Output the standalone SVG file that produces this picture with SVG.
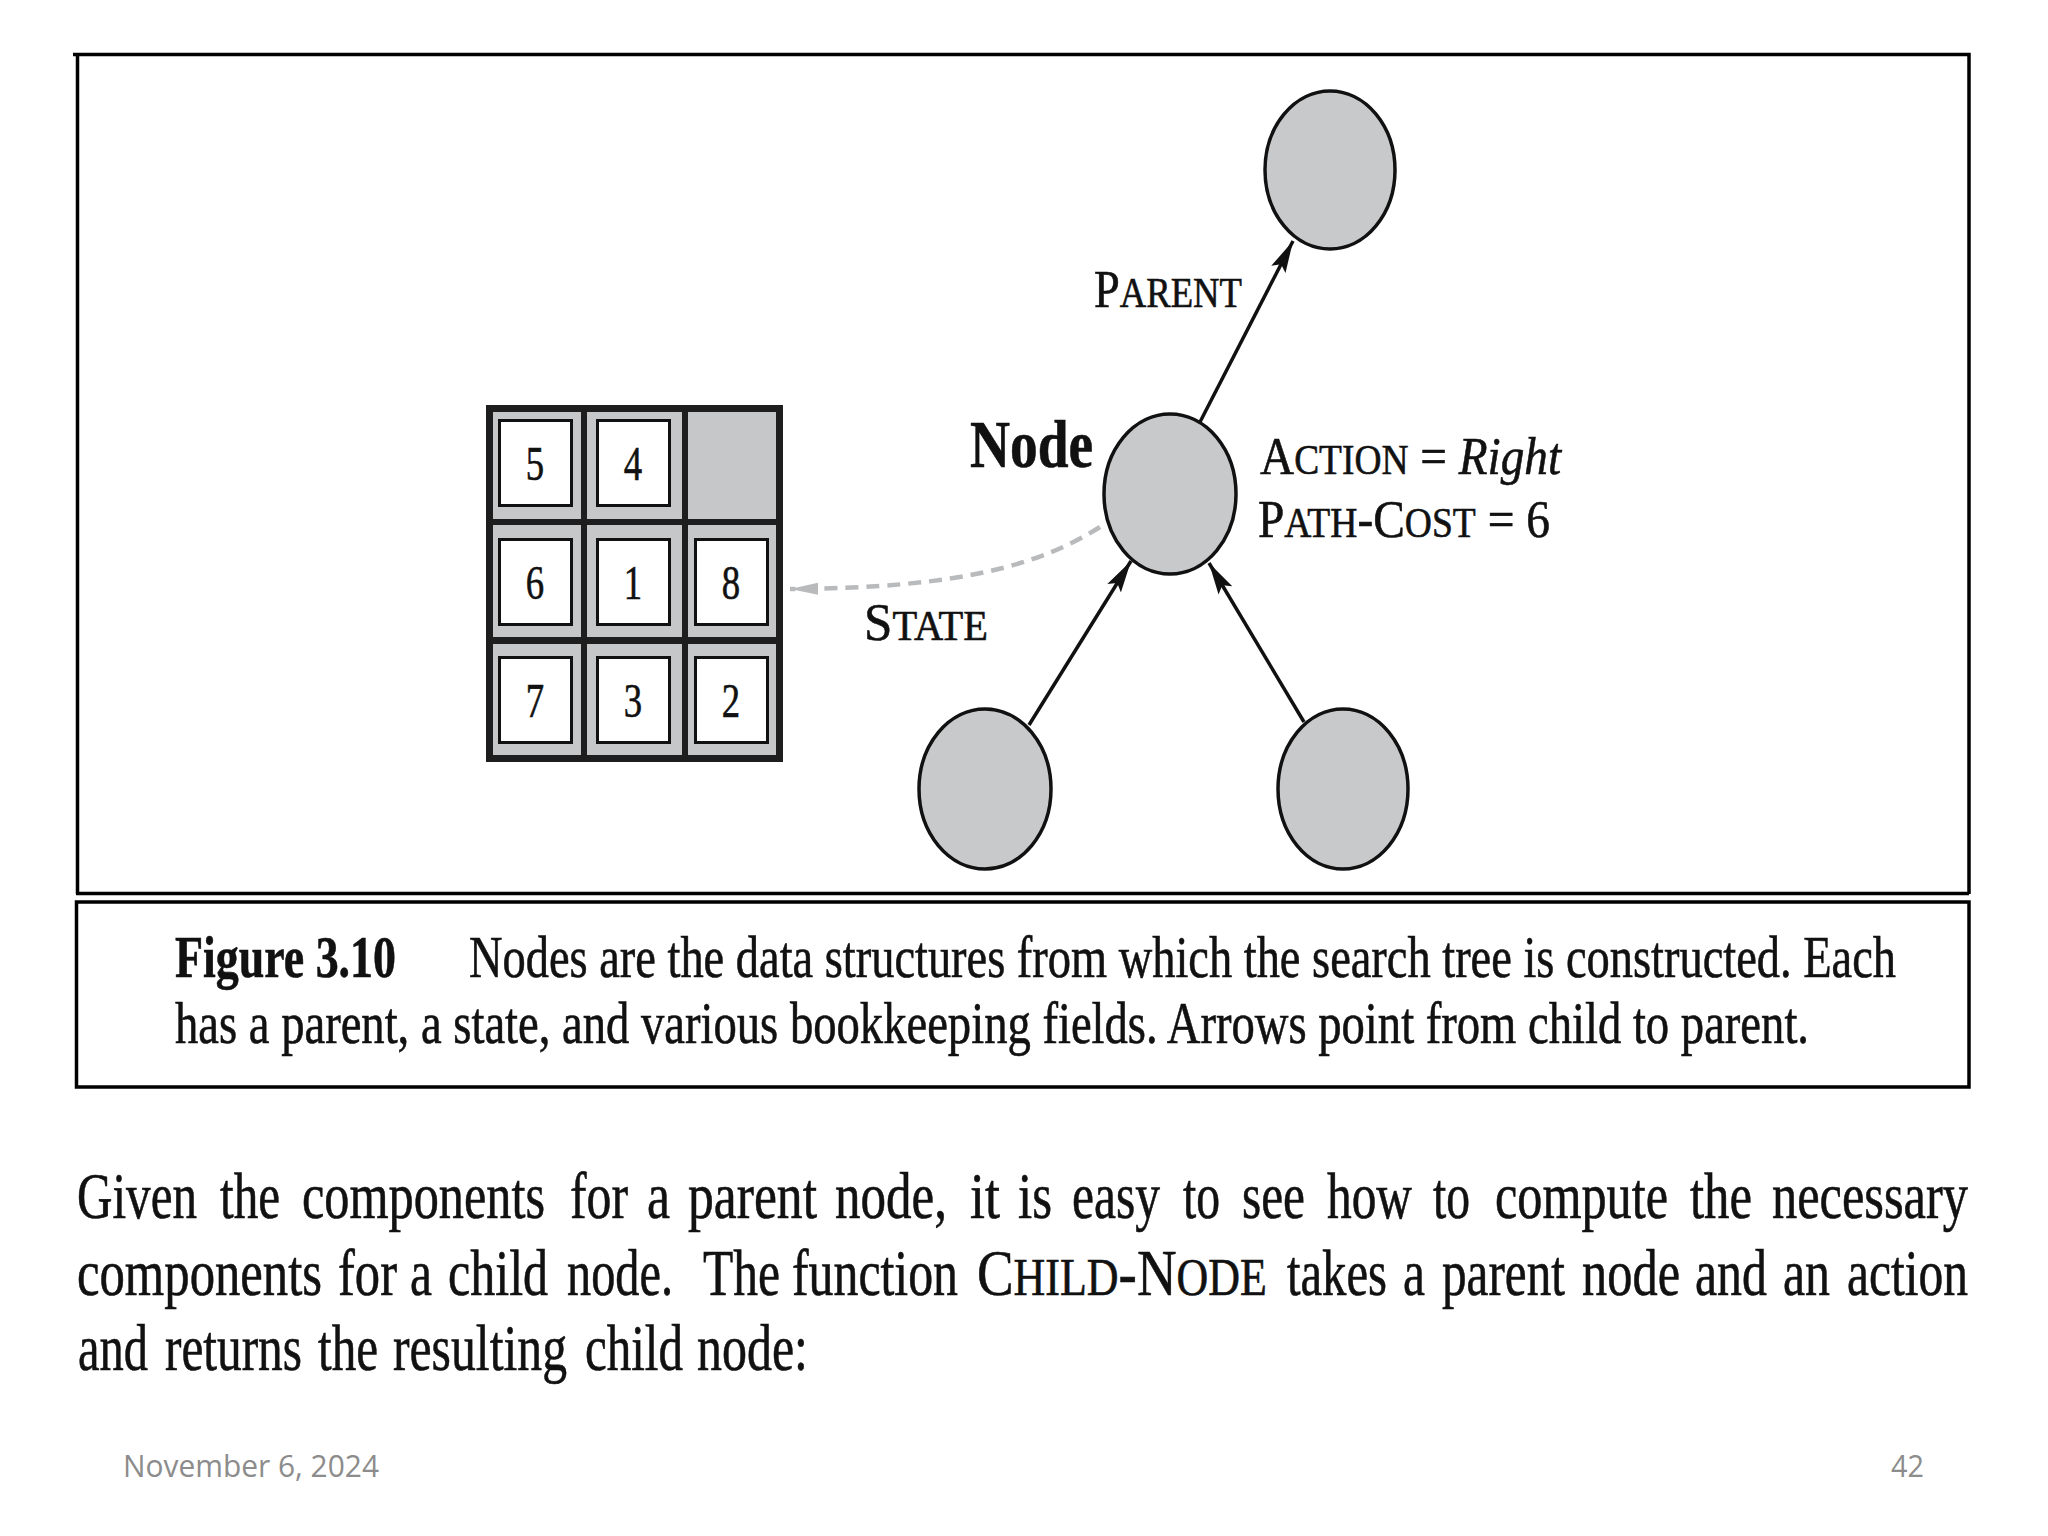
<svg xmlns="http://www.w3.org/2000/svg" width="2048" height="1536" viewBox="0 0 2048 1536">
  <style>
    .frame { fill: none; stroke: #000; stroke-width: 3.5; }
    .tnode { fill: #c8c9cb; stroke: #111; stroke-width: 3.5; }
    .edge { fill: none; stroke: #111; stroke-width: 3.5; }
    .state { fill: none; stroke: #b9babc; stroke-width: 4.5; stroke-dasharray: 13 8; }
    .serif { font-family: "Liberation Serif", "Times New Roman", serif; fill: #111; stroke: #111; stroke-width: 0.6; }
    .lbl { font-size: 53px; }
    .sc { font-size: 42px; }
    .digit { font-size: 49px; text-anchor: middle; }
    .cap { font-size: 60px; }
    .body { font-size: 65px; }
    .bsc { font-size: 52px; }
    .foot { font-family: "Open Sans", "Liberation Sans", sans-serif; font-size: 31px; fill: #8c8c8c; }
    .tile { fill: #fff; stroke: #111; stroke-width: 3; }
    .cell { fill: #c6c7c9; }
  </style>
  <defs>
    <marker id="ah" markerWidth="34" markerHeight="20" refX="32" refY="10" orient="auto" markerUnits="userSpaceOnUse">
      <path d="M0,2 L32,10 L0,18 L6,10 Z" fill="#111"/>
    </marker>
    <marker id="ahg" markerWidth="30" markerHeight="18" refX="28" refY="9" orient="auto" markerUnits="userSpaceOnUse">
      <path d="M0,3 L28,9 L0,15 Z" fill="#b9babc"/>
    </marker>
  </defs>
  <rect width="2048" height="1536" fill="#fff"/>

  <!-- figure frames -->
  <g id="frames">
    <path class="frame" d="M73,54.5 H1969 V894 M77.5,54.5 V894"/>
    <line class="frame" x1="76" y1="893.5" x2="1969" y2="893.5" stroke-width="3"/>
    <rect class="frame" x="76.5" y="902" width="1892.5" height="185"/>
  </g>

  <!-- puzzle state node -->
  <g id="state-grid">
    <rect x="486" y="405" width="297" height="357" fill="#1e1e1e"/>
    <rect class="cell" x="493" y="412" width="88" height="107"/>
    <rect class="cell" x="587" y="412" width="95" height="107"/>
    <rect class="cell" x="688" y="412" width="88" height="107"/>
    <rect class="cell" x="493" y="525" width="88" height="112"/>
    <rect class="cell" x="587" y="525" width="95" height="112"/>
    <rect class="cell" x="688" y="525" width="88" height="112"/>
    <rect class="cell" x="493" y="644" width="88" height="111"/>
    <rect class="cell" x="587" y="644" width="95" height="111"/>
    <rect class="cell" x="688" y="644" width="88" height="111"/>
    <rect class="tile" x="499.5" y="420.5" width="72" height="85"/>
    <rect class="tile" x="597.5" y="420.5" width="72" height="85"/>
    <rect class="tile" x="499.5" y="539.5" width="72" height="85"/>
    <rect class="tile" x="597.5" y="539.5" width="72" height="85"/>
    <rect class="tile" x="695.5" y="539.5" width="72" height="85"/>
    <rect class="tile" x="499.5" y="657.5" width="72" height="85"/>
    <rect class="tile" x="597.5" y="657.5" width="72" height="85"/>
    <rect class="tile" x="695.5" y="657.5" width="72" height="85"/>
    <g transform="scale(0.75,1)">
      <text class="serif digit" x="713.3" y="480">5</text>
      <text class="serif digit" x="844" y="480">4</text>
      <text class="serif digit" x="713.3" y="599">6</text>
      <text class="serif digit" x="844" y="599">1</text>
      <text class="serif digit" x="974.7" y="599">8</text>
      <text class="serif digit" x="713.3" y="717">7</text>
      <text class="serif digit" x="844" y="717">3</text>
      <text class="serif digit" x="974.7" y="717">2</text>
    </g>
  </g>

  <!-- tree nodes -->
  <g id="parent-node"><ellipse class="tnode" cx="1330" cy="170" rx="65" ry="79"/></g>
  <g id="node">
    <ellipse class="tnode" cx="1170" cy="494" rx="66" ry="80"/>
    <g transform="scale(0.81,1)">
      <text class="serif" x="1197.5" y="467" font-size="68" font-weight="bold" textLength="151.9" lengthAdjust="spacingAndGlyphs">Node</text>
    </g>
  </g>
  <g id="child-left"><ellipse class="tnode" cx="985" cy="789" rx="66" ry="80"/></g>
  <g id="child-right"><ellipse class="tnode" cx="1343" cy="789" rx="65" ry="80"/></g>

  <!-- connectors -->
  <g id="connectors">
    <line class="edge" x1="1200" y1="422" x2="1293" y2="241" marker-end="url(#ah)"/>
    <line class="edge" x1="1029" y1="725" x2="1131" y2="561" marker-end="url(#ah)"/>
    <line class="edge" x1="1304" y1="722" x2="1209" y2="563" marker-end="url(#ah)"/>
    <path class="state" d="M1100,527 C1040,565 960,588 790,589" marker-end="url(#ahg)"/>
  </g>

  <!-- labels -->
  <g id="labels" transform="scale(0.85,1)">
    <text class="serif lbl" x="1287.1" y="307" textLength="174.1" lengthAdjust="spacingAndGlyphs">P<tspan class="sc">ARENT</tspan></text>
    <text class="serif lbl" x="1482.4" y="474" textLength="354.1" lengthAdjust="spacingAndGlyphs">A<tspan class="sc">CTION</tspan> = <tspan font-style="italic">Right</tspan></text>
    <text class="serif lbl" x="1480" y="537" textLength="343.5" lengthAdjust="spacingAndGlyphs">P<tspan class="sc">ATH</tspan>-C<tspan class="sc">OST</tspan> = 6</text>
    <text class="serif lbl" x="1016.5" y="640" textLength="145.9" lengthAdjust="spacingAndGlyphs">S<tspan class="sc">TATE</tspan></text>
  </g>

  <!-- caption -->
  <g id="caption" transform="scale(0.75,1)">
    <text class="serif cap" x="233.3" y="977" font-weight="bold" textLength="294.7" lengthAdjust="spacingAndGlyphs">Figure 3.10</text>
    <text class="serif cap" x="625.3" y="977" textLength="1902.7" lengthAdjust="spacingAndGlyphs">Nodes are the data structures from which the search tree is constructed. Each</text>
    <text class="serif cap" x="233.3" y="1043" textLength="2178.7" lengthAdjust="spacingAndGlyphs">has a parent, a state, and various bookkeeping fields. Arrows point from child to parent.</text>
  </g>

  <!-- body paragraph -->
  <g id="paragraph" class="serif body" transform="scale(0.755,1)">
    <text x="102" y="1218" textLength="158.9" lengthAdjust="spacingAndGlyphs">Given</text>
    <text x="291.4" y="1218" textLength="79.5" lengthAdjust="spacingAndGlyphs">the</text>
    <text x="400" y="1218" textLength="321.9" lengthAdjust="spacingAndGlyphs">components</text>
    <text x="755" y="1218" textLength="76.8" lengthAdjust="spacingAndGlyphs">for</text>
    <text x="857" y="1218" textLength="30.5" lengthAdjust="spacingAndGlyphs">a</text>
    <text x="911.3" y="1218" textLength="170.9" lengthAdjust="spacingAndGlyphs">parent</text>
    <text x="1106" y="1218" textLength="148.3" lengthAdjust="spacingAndGlyphs">node,</text>
    <text x="1284.8" y="1218" textLength="39.7" lengthAdjust="spacingAndGlyphs">it</text>
    <text x="1348.4" y="1218" textLength="45" lengthAdjust="spacingAndGlyphs">is</text>
    <text x="1419.9" y="1218" textLength="116.6" lengthAdjust="spacingAndGlyphs">easy</text>
    <text x="1566.9" y="1218" textLength="49" lengthAdjust="spacingAndGlyphs">to</text>
    <text x="1645" y="1218" textLength="83.4" lengthAdjust="spacingAndGlyphs">see</text>
    <text x="1757.6" y="1218" textLength="112.6" lengthAdjust="spacingAndGlyphs">how</text>
    <text x="1898" y="1218" textLength="49" lengthAdjust="spacingAndGlyphs">to</text>
    <text x="1980.1" y="1218" textLength="229.1" lengthAdjust="spacingAndGlyphs">compute</text>
    <text x="2238.4" y="1218" textLength="82.1" lengthAdjust="spacingAndGlyphs">the</text>
    <text x="2347" y="1218" textLength="259.6" lengthAdjust="spacingAndGlyphs">necessary</text>

    <text x="102" y="1295" textLength="324.5" lengthAdjust="spacingAndGlyphs">components</text>
    <text x="447.7" y="1295" textLength="78.1" lengthAdjust="spacingAndGlyphs">for</text>
    <text x="543" y="1295" textLength="29.1" lengthAdjust="spacingAndGlyphs">a</text>
    <text x="593.4" y="1295" textLength="132.5" lengthAdjust="spacingAndGlyphs">child</text>
    <text x="751" y="1295" textLength="140.4" lengthAdjust="spacingAndGlyphs">node.</text>
    <text x="931.1" y="1295" textLength="102" lengthAdjust="spacingAndGlyphs">The</text>
    <text x="1049" y="1295" textLength="219.9" lengthAdjust="spacingAndGlyphs">function</text>
    <text x="1294" y="1295" textLength="384.1" lengthAdjust="spacingAndGlyphs">C<tspan class="bsc">HILD</tspan>-N<tspan class="bsc">ODE</tspan></text>
    <text x="1704.6" y="1295" textLength="132.5" lengthAdjust="spacingAndGlyphs">takes</text>
    <text x="1858.3" y="1295" textLength="29.1" lengthAdjust="spacingAndGlyphs">a</text>
    <text x="1909.9" y="1295" textLength="162.9" lengthAdjust="spacingAndGlyphs">parent</text>
    <text x="2095.4" y="1295" textLength="129.8" lengthAdjust="spacingAndGlyphs">node</text>
    <text x="2245" y="1295" textLength="95.4" lengthAdjust="spacingAndGlyphs">and</text>
    <text x="2361.6" y="1295" textLength="62.3" lengthAdjust="spacingAndGlyphs">an</text>
    <text x="2446.4" y="1295" textLength="160.3" lengthAdjust="spacingAndGlyphs">action</text>

    <text x="103.3" y="1370" textLength="92.7" lengthAdjust="spacingAndGlyphs">and</text>
    <text x="218.5" y="1370" textLength="181.5" lengthAdjust="spacingAndGlyphs">returns</text>
    <text x="421.2" y="1370" textLength="79.5" lengthAdjust="spacingAndGlyphs">the</text>
    <text x="520.5" y="1370" textLength="230.5" lengthAdjust="spacingAndGlyphs">resulting</text>
    <text x="774.8" y="1370" textLength="129.8" lengthAdjust="spacingAndGlyphs">child</text>
    <text x="923.2" y="1370" textLength="147" lengthAdjust="spacingAndGlyphs">node:</text>
  </g>

  <!-- footer -->
  <g id="footer">
    <text class="foot" x="123" y="1477" textLength="256" lengthAdjust="spacingAndGlyphs">November 6, 2024</text>
    <text class="foot" x="1891" y="1477" textLength="33" lengthAdjust="spacingAndGlyphs">42</text>
  </g>
</svg>
